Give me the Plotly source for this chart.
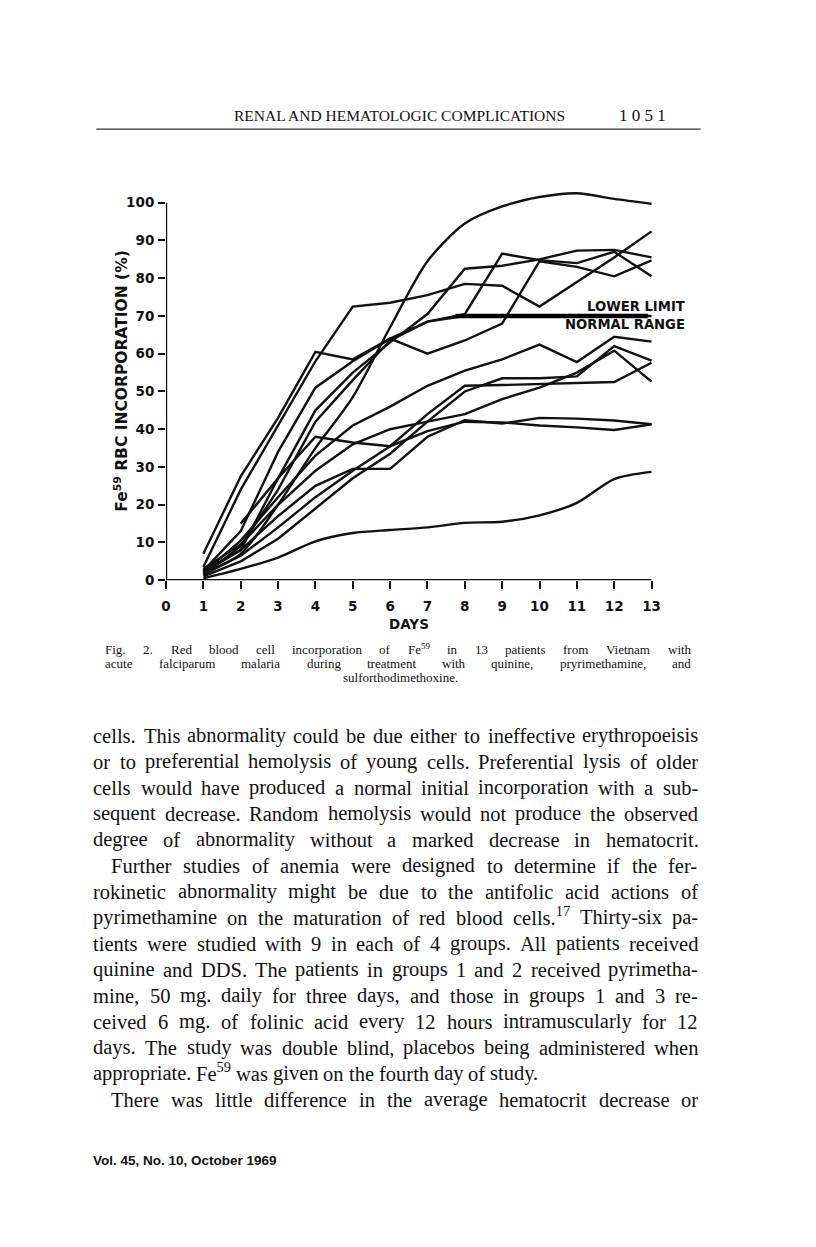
import re
import plotly.graph_objects as go

# ---------------- DATA ----------------
days = [1, 2, 3, 4, 5, 6, 7, 8, 9, 10, 11, 12, 13]

pt_A = [2, 7, 20, 35, 48.5, 67, 84.5, 94.5, 99, 101.5, 102.5, 101, 99.7]
pt_B = [3.5, 24, 41, 58, 72.5, 73.5, 75.5, 78.5, 78, 72.5, 79, 85.5, 92.4]
pt_C = [2, 8, 27, 45, 55, 63, 70.5, 82.5, 83.3, 85, 87.3, 87.5, 85.5]
pt_D = [2.5, 13, 34, 51, 58, 64, 60, 63.5, 68, 84.5, 83, 80.5, 84.7]
pt_E = [1.5, 9, 24, 42, 53, 63.5, 68.5, 70.5, 86.5, 84.8, 84, 87, 80.5]
pt_F = [7, 27.5, 43, 60.5, 58.5, 64, 68.5, 70, 70, 70, 70, 70, 70]
pt_G = [2, 10.5, 22, 33, 41, 46, 51.5, 55.5, 58.5, 62.4, 57.8, 64.5, 63.2]
pt_H = [1, 5, 11, 19, 27, 33.5, 42, 50, 53.5, 53.5, 54, 62, 58.2]
pt_I = [1.5, 6.5, 14, 22, 29, 35.5, 44, 51.5, 51.7, 52, 52.2, 52.5, 57.6]
pt_J = [3, 9.5, 20, 29, 36, 40, 42, 44, 48, 51, 55, 60.8, 52.6]
pt_K = [2.5, 8, 17, 25, 29.5, 29.5, 38, 42.4, 41.5, 43, 42.8, 42.3, 41.3]
pt_L = [None, 15, 27, 38, 36.5, 35.5, 39.5, 42, 41.8, 41, 40.5, 39.8, 41.3]
pt_M = [0.5, 3, 6, 10.3, 12.5, 13.3, 14, 15.2, 15.5, 17.2, 20.5, 26.8, 28.7]

smooth_series = [pt_A, pt_M]
linear_series = [pt_B, pt_C, pt_D, pt_E, pt_F, pt_G, pt_H, pt_I, pt_J, pt_K, pt_L]

normal_limit_days = [7.75, 12.9]
normal_limit_value = 70

x_ticks = list(range(0, 14))
x_ticktext = ["0", "1", "2", "3", "4", "5", "6", "7", "8", "9", "10", "11", "12", "13"]
y_ticks = list(range(0, 101, 10))
y_ticktext = ["0", "10", "20", "30", "40", "50", "60", "70", "80", "90", "100"]

header_title = "RENAL AND HEMATOLOGIC COMPLICATIONS"
header_page = "1 0 5 1"
y_title = "Fe<sup>59</sup> RBC INCORPORATION (%)"
x_title = "DAYS"
limit_label_1 = "LOWER LIMIT"
limit_label_2 = "NORMAL RANGE"

caption_lines = [
    "Fig. 2. Red blood cell incorporation of Fe<sup>59</sup> in 13 patients from Vietnam with",
    "acute falciparum malaria during treatment with quinine, pryrimethamine, and",
    "sulforthodimethoxine.",
]

body_lines = [
    "cells. This abnormality could be due either to ineffective erythropoeisis",
    "or to preferential hemolysis of young cells. Preferential lysis of older",
    "cells would have produced a normal initial incorporation with a sub-",
    "sequent decrease. Random hemolysis would not produce the observed",
    "degree of abnormality without a marked decrease in hematocrit.",
    "Further studies of anemia were designed to determine if the fer-",
    "rokinetic abnormality might be due to the antifolic acid actions of",
    "pyrimethamine on the maturation of red blood cells.<sup>17</sup> Thirty-six pa-",
    "tients were studied with 9 in each of 4 groups. All patients received",
    "quinine and DDS. The patients in groups 1 and 2 received pyrimetha-",
    "mine, 50 mg. daily for three days, and those in groups 1 and 3 re-",
    "ceived 6 mg. of folinic acid every 12 hours intramuscularly for 12",
    "days. The study was double blind, placebos being administered when",
    "appropriate. Fe<sup>59</sup> was given on the fourth day of study.",
    "There was little difference in the average hematocrit decrease or",
]

footer_text = "Vol. 45, No. 10, October 1969"

# ---------------- LAYOUT HELPERS ----------------
W, H = 816, 1247
X0_PX, PX_PER_DAY = 162.0, 37.58
Y0_PX, PX_PER_UNIT = 584.0, 3.8
PLOT_RIGHT_PX, PLOT_TOP_PX = 666.0, 189.0
LEFT_PAD = 4  # annotation inner offset compensation

def px(xp):
    return xp / W

def py(yp):
    return 1 - yp / H

TIMES = {' ': 250, '!': 333, '"': 408, '%': 833, '&': 778, "'": 333, '(': 333, ')': 333,
         ',': 250, '-': 333, '.': 250, '/': 278, ':': 278, ';': 278, '?': 444}
for ch in '0123456789':
    TIMES[ch] = 500
TIMES.update(dict(zip('ABCDEFGHIJKLMNOPQRSTUVWXYZ',
                      [722, 667, 667, 722, 611, 556, 722, 722, 333, 389, 722, 611, 889,
                       722, 722, 556, 722, 667, 556, 611, 722, 722, 944, 722, 722, 611])))
TIMES.update(dict(zip('abcdefghijklmnopqrstuvwxyz',
                      [444, 500, 444, 500, 444, 333, 500, 500, 278, 278, 500, 278, 778,
                       500, 500, 500, 500, 333, 389, 278, 500, 500, 722, 500, 500, 444])))

def tw(s, size):
    total = 0.0
    for part in re.split(r'(<sup>.*?</sup>)', s):
        if part.startswith('<sup>'):
            inner = part[5:-6]
            total += sum(TIMES.get(c, 500) for c in inner) * 0.7
        else:
            total += sum(TIMES.get(c, 500) for c in part)
    return total * size / 1000.0

annotations = []

def add_text(text, x, y, size, family="Liberation Serif", anchor="left", weight="normal",
             color="#111", angle=0, vanchor="middle"):
    annotations.append(dict(text=text, x=px(x), y=py(y), xref="paper", yref="paper",
                            xanchor=anchor, yanchor=vanchor, showarrow=False,
                            textangle=angle, borderpad=0,
                            font=dict(family=family, size=size, color=color, weight=weight)))

def add_line(text, x_left, x_right, y, size, justify=True, family="Liberation Serif"):
    words = text.split(' ')
    widths = [tw(w, size) for w in words]
    if justify and len(words) > 1:
        gap = (x_right - x_left - sum(widths)) / (len(words) - 1)
    else:
        gap = tw(' ', size)
    x = x_left - LEFT_PAD
    y_bottom = y + 0.62 * size
    for w, wd in zip(words, widths):
        add_text(w, x, y_bottom, size, family=family, vanchor="bottom")
        x += wd + gap

# ---------------- FIGURE ----------------
fig = go.Figure()

for s in linear_series:
    fig.add_trace(go.Scatter(x=days, y=s, mode="lines", line=dict(color="#111", width=2.4),
                             connectgaps=False, hoverinfo="skip"))
for s in smooth_series:
    fig.add_trace(go.Scatter(x=days, y=s, mode="lines",
                             line=dict(color="#111", width=2.4, shape="spline", smoothing=0.8),
                             hoverinfo="skip"))
fig.add_trace(go.Scatter(x=normal_limit_days, y=[normal_limit_value] * len(normal_limit_days),
                         mode="lines", line=dict(color="#000", width=4.5), hoverinfo="skip"))

x_range_max = (PLOT_RIGHT_PX - X0_PX) / PX_PER_DAY
y_range_max = (Y0_PX - PLOT_TOP_PX) / PX_PER_UNIT

tick_font = dict(family="DejaVu Sans", size=13.5, color="#111", weight="bold")
fig.update_xaxes(domain=[px(X0_PX), px(PLOT_RIGHT_PX)], range=[0, x_range_max],
                 tickmode="array", tickvals=x_ticks, ticktext=x_ticktext,
                 ticks="outside", ticklen=8, tickwidth=2.2, tickcolor="#111",
                 ticklabelstandoff=6,
                 showline=False, showgrid=False, zeroline=False, tickfont=tick_font)
fig.update_yaxes(domain=[py(Y0_PX), py(PLOT_TOP_PX)], range=[0, y_range_max],
                 tickmode="array", tickvals=y_ticks, ticktext=y_ticktext,
                 ticks="outside", ticklen=7, tickwidth=2.2, tickcolor="#111",
                 ticklabelstandoff=1,
                 showline=False, showgrid=False, zeroline=False, tickfont=tick_font)

shapes = [
    dict(type="line", xref="x", yref="y", x0=0, x1=0, y0=0, y1=100,
         line=dict(color="#111", width=2.4)),
    dict(type="line", xref="x", yref="y", x0=0, x1=13, y0=0, y1=0,
         line=dict(color="#111", width=2.4)),
    dict(type="line", xref="paper", yref="paper", x0=px(92), x1=px(700), y0=py(130), y1=py(130),
         line=dict(color="#333", width=1.2)),
]

# chart labels
add_text(y_title, 117, 383, 15.5, family="DejaVu Sans", anchor="center", weight="bold", angle=-90)
add_text(x_title, 406, 628, 13.5, family="DejaVu Sans", anchor="center", weight="bold")
add_text(limit_label_1, 685, 308, 13.2, family="DejaVu Sans", anchor="right", weight="bold")
add_text(limit_label_2, 685, 327, 13.2, family="DejaVu Sans", anchor="right", weight="bold")

# header
add_text(header_title, 229, 116, 15.5)
add_text(header_page, 617, 116, 17)

# caption
cap_y = [654.5, 668.3, 682]
cap_size = 13
add_line(caption_lines[0], 104, 693, cap_y[0], cap_size)
add_line(caption_lines[1], 104, 693, cap_y[1], cap_size)
add_text(caption_lines[2], 398, cap_y[2], cap_size, anchor="center")

# body
indent_rows = {5, 14}
ragged_rows = {13}
for i, line in enumerate(body_lines):
    y = 740 + i * 26.2
    xl = 110 if i in indent_rows else 92
    add_line(line, xl, 700, y, 20.5, justify=(i not in ragged_rows))

# footer
add_text(footer_text, 92 - LEFT_PAD, 1168, 13.5, family="Liberation Sans", weight="bold")

fig.update_layout(width=W, height=H, autosize=False, margin=dict(l=0, r=0, t=0, b=0),
                  paper_bgcolor="white", plot_bgcolor="white", showlegend=False,
                  hovermode=False, shapes=shapes, annotations=annotations)

fig.write_html("out.html", config={"displayModeBar": False},
               post_script="document.body.style.margin='0';")
